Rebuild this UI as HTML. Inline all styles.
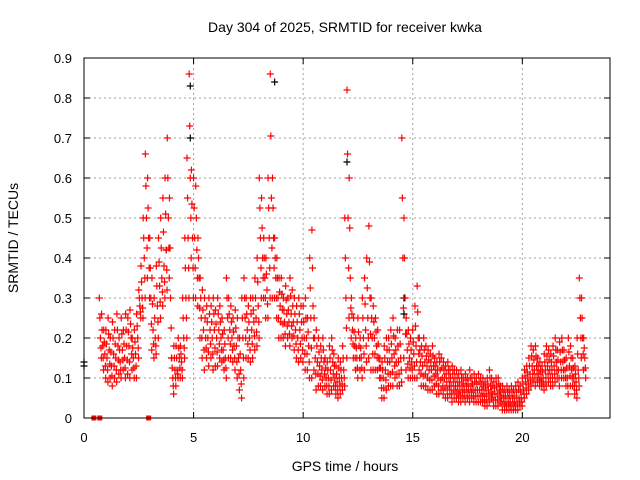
<!DOCTYPE html>
<html><head><meta charset="utf-8"><style>
body{margin:0;background:#fff}
svg{display:block;font-family:"Liberation Sans",sans-serif}
</style></head><body>
<svg id="chart" width="640" height="480">
<text x="345" y="32" text-anchor="middle" font-size="14">Day 304 of 2025, SRMTID for receiver kwka</text>
<text x="0" y="0" transform="translate(18,238) rotate(-90)" text-anchor="middle" font-size="14">SRMTID / TECUs</text>
<text x="345" y="471" text-anchor="middle" font-size="14">GPS time / hours</text>
<g id="grid"></g><g id="ticks"></g><g id="marks"></g>
<rect x="84" y="58" width="526" height="360" fill="none" stroke="#000"/>
</svg>
<script>
const xTicks=[0,5,10,15,20];
const yTicks=[0,0.1,0.2,0.3,0.4,0.5,0.6,0.7,0.8,0.9];
const tStart=0.7, tStep=0.1;
const hiVals=[.30,.26,.22,
.22,.25,.2,.24,.22,.26,.2,.25,.22,.26,
.25,.27,.2,.22,.26,.32,.38,.5,.66,.6,
.45,.35,.3,.38,.45,.5,.55,.6,.7,.55,
.15,.18,.18,.2,.18,.3,.45,.65,.86,.62,
.6,.58,.45,.35,.32,.3,.28,.3,.28,.3,
.27,.3,.28,.25,.22,.35,.3,.28,.25,.27,
.25,.2,.3,.35,.3,.28,.3,.3,.35,.4,
.6,.55,.45,.4,.6,.86,.6,.45,.4,.35,
.35,.3,.33,.3,.35,.32,.3,.28,.3,.28,
.28,.3,.25,.4,.47,.25,.22,.2,.18,.2,
.15,.14,.18,.2,.16,.13,.15,.14,.18,.5,
.82,.6,.3,.25,.2,.25,.2,.3,.35,.4,
.48,.3,.28,.25,.22,.15,.14,.18,.2,.2,
.22,.25,.2,.22,.22,.7,.5,.25,.22,.2,
.22,.28,.33,.2,.18,.2,.18,.17,.16,.18,
.15,.14,.16,.15,.14,.13,.14,.12,.13,.12,
.12,.11,.12,.1,.11,.1,.12,.1,.11,.1,
.11,.1,.1,.09,.1,.12,.1,.09,.1,.1,
.08,.08,.07,.08,.07,.08,.07,.08,.09,.08,
.1,.12,.13,.15,.18,.17,.18,.15,.14,.13,
.16,.18,.17,.16,.18,.2,.17,.19,.2,.17,
.15,.2,.18,.15,.13,.2,.35,.3,.2];
const midVals=[.2,.18,.16,
.15,.17,.13,.16,.15,.18,.14,.17,.15,.18,
.18,.2,.15,.16,.2,.28,.3,.4,.5,.45,
.3,.22,.2,.28,.33,.35,.38,.42,.5,.3,
.1,.12,.12,.15,.14,.2,.3,.45,.6,.45,
.45,.42,.35,.25,.22,.2,.2,.22,.2,.22,
.2,.22,.2,.17,.15,.25,.22,.2,.18,.18,
.15,.12,.2,.25,.22,.2,.22,.24,.25,.28,
.45,.4,.35,.32,.45,.55,.45,.35,.3,.28,
.27,.24,.26,.24,.26,.24,.22,.2,.22,.2,
.2,.2,.18,.25,.28,.15,.14,.13,.12,.14,
.1,.1,.12,.14,.1,.09,.1,.1,.12,.3,
.5,.35,.22,.18,.15,.18,.15,.2,.22,.25,
.3,.2,.2,.18,.15,.1,.1,.12,.14,.14,
.15,.16,.14,.14,.15,.4,.3,.17,.15,.14,
.16,.18,.2,.14,.13,.14,.13,.12,.12,.13,
.11,.1,.12,.1,.1,.09,.1,.08,.09,.08,
.08,.07,.08,.07,.08,.07,.08,.07,.07,.07,
.07,.07,.06,.06,.07,.08,.06,.06,.06,.07,
.05,.05,.04,.05,.04,.05,.04,.05,.05,.05,
.07,.09,.1,.11,.13,.12,.13,.11,.1,.1,
.12,.13,.12,.12,.13,.14,.12,.14,.14,.12,
.1,.13,.12,.1,.09,.12,.25,.2,.15];
const loVals=[.15,.12,.1,
.09,.1,.08,.1,.09,.11,.1,.12,.1,.11,
.1,.12,.1,.1,.15,.25,.25,.3,.35,.3,
.17,.15,.16,.2,.25,.28,.3,.32,.35,.15,
.06,.08,.1,.1,.1,.15,.2,.3,.4,.3,
.3,.28,.2,.15,.12,.15,.13,.15,.12,.13,
.13,.15,.14,.12,.1,.15,.15,.14,.12,.1,
.07,.05,.1,.15,.15,.14,.15,.17,.18,.2,
.3,.3,.25,.25,.3,.3,.3,.25,.2,.2,
.2,.18,.2,.18,.2,.17,.15,.14,.15,.14,
.12,.12,.1,.1,.12,.07,.08,.08,.07,.08,
.06,.06,.07,.08,.06,.05,.06,.07,.08,.15,
.25,.2,.15,.12,.1,.12,.1,.12,.14,.15,
.12,.12,.12,.12,.1,.05,.05,.07,.08,.08,
.08,.1,.08,.08,.09,.15,.12,.1,.1,.1,
.1,.1,.12,.08,.08,.08,.07,.07,.07,.08,
.06,.06,.07,.06,.05,.05,.06,.04,.05,.05,
.04,.04,.05,.04,.05,.04,.05,.04,.04,.04,
.04,.04,.03,.03,.04,.05,.03,.03,.03,.04,
.02,.02,.02,.02,.02,.02,.02,.02,.03,.03,
.05,.06,.07,.08,.09,.08,.09,.08,.08,.07,
.08,.09,.08,.08,.09,.1,.08,.1,.1,.08,
.06,.08,.08,.06,.05,.08,.15,.12,.1];
const zeroTimes=[0.45,0.72,2.95];
const blackTimes=[0,0,4.85,4.85,8.7,12.0,14.6,14.6,3.75];
const blackVals=[.13,.14,.83,.70,.84,.64,.26,.30,.42];
const NS="http://www.w3.org/2000/svg";
const X=t=>84+t*526/24, Y=v=>418-v*400;
const grid=document.getElementById('grid'),ticks=document.getElementById('ticks'),marks=document.getElementById('marks');
function mk(tag,attrs,parent){const e=document.createElementNS(NS,tag);for(const k in attrs)e.setAttribute(k,attrs[k]);parent.appendChild(e);return e;}
xTicks.forEach(t=>{
 const g=mk('line',{x1:X(t),x2:X(t),y1:58,y2:418,stroke:'#a0a0a0','stroke-dasharray':'2,3'},grid);
 
 
 const tk=mk('path',{d:`M${X(t)},418v-6M${X(t)},58v6`,stroke:'#000'},grid);
 
 
 const tx=mk('text',{x:X(t),y:442,'text-anchor':'middle','font-size':'13'},ticks);
 tx.textContent=t;
 
 
});
yTicks.forEach(v=>{
 const g=mk('line',{x1:84,x2:610,y1:Y(v),y2:Y(v),stroke:'#a0a0a0','stroke-dasharray':'2,3'},grid);
 
 
 const tk=mk('path',{d:`M84,${Y(v)}h6M610,${Y(v)}h-6`,stroke:'#000'},grid);
 
 
 const tx=mk('text',{x:72,y:Y(v)+5,'text-anchor':'end','font-size':'13'},ticks);
 tx.textContent=v===0?'0':v.toFixed(1);
 
 
});
function plus(t,v,color){
 const x=X(t),y=Y(v);
 const p=mk('path',{d:`M${x-3.5},${y}h7M${x},${y-3.5}v7`,stroke:color,'stroke-width':1.2,fill:'none'},marks);
 
 
}
blackTimes.forEach((t,i)=>plus(t,blackVals[i],'#000'));
hiVals.forEach((v,i)=>{
 const t=tStart+i*tStep, m=midVals[i], l=loVals[i];
 plus(t,v,'#f00');
 plus(t+0.025,(v+m)/2,'#f00');
 plus(t+0.05,m,'#f00');
 plus(t+0.075,(m+l)/2,'#f00');
 plus(t+0.09,l,'#f00');
});
zeroTimes.forEach(t=>{
 const r=mk('rect',{x:X(t)-2.5,y:Y(0)-2.5,width:5,height:5,fill:'#f00'},marks);
 
 
});
</script>
</body></html>
